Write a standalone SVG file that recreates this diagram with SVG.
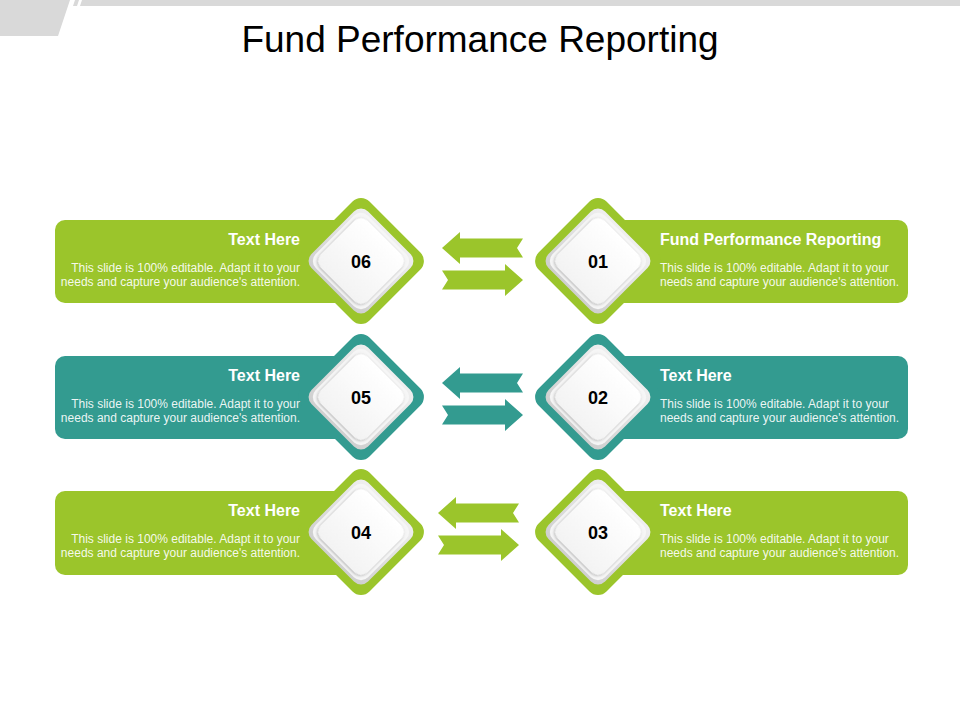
<svg xmlns="http://www.w3.org/2000/svg" xmlns:xlink="http://www.w3.org/1999/xlink" width="960" height="720" viewBox="0 0 960 720">
<style>
text{font-family:"Liberation Sans",Arial,sans-serif}
.title{font-size:37px;fill:#000}
.hd{font-size:16px;font-weight:bold;fill:#fff}
.bd{font-size:12px;fill:#fff;fill-opacity:0.92}
.num{font-size:18px;font-weight:bold;fill:#000;text-anchor:middle}
.g{fill:#9bc52b}
.t{fill:#339b90}
.end{text-anchor:end}
</style>
<defs>
<linearGradient id="ring" x1="0" y1="0" x2="0" y2="1">
<stop offset="0" stop-color="#efefef"/>
<stop offset="1" stop-color="#cfcfcf"/>
</linearGradient>
<linearGradient id="wh" x1="0" y1="0" x2="0" y2="1">
<stop offset="0" stop-color="#ffffff"/>
<stop offset="1" stop-color="#f3f3f3"/>
</linearGradient>
<filter id="sh" x="-20%" y="-20%" width="140%" height="140%">
<feDropShadow dx="0" dy="1" stdDeviation="1.6" flood-color="#777" flood-opacity="0.6"/>
</filter>
<rect id="dOuter" x="-48" y="-48" width="96" height="96" rx="12" transform="rotate(45)"/>
<g id="dInner">
<rect x="-40" y="-40" width="80" height="80" rx="10" transform="rotate(45)" fill="url(#ring)"/>
<rect x="-37" y="-37" width="74" height="74" rx="10" transform="rotate(45)" fill="#f6f6f6"/>
<rect x="-33" y="-33" width="66" height="66" rx="9" transform="rotate(45)" fill="url(#wh)" filter="url(#sh)"/>
</g>
<path id="arL" d="M0,0 L18,-16 L18,-9.5 L81,-9.5 L75,0 L81,9.5 L18,9.5 L18,16 Z"/>
<path id="arR" d="M81,0 L63,-16 L63,-9.5 L0,-9.5 L6,0 L0,9.5 L63,9.5 L63,16 Z"/>
</defs>

<g id="header">
<polygon points="0,0 70,0 58,36 0,36" fill="#d9d9d9"/>
<polygon points="75,0 79,0 77,6 73,6" fill="#d9d9d9"/>
<polygon points="82,0 960,0 960,6 80,6" fill="#d9d9d9"/>
<text class="title" x="480" y="52" text-anchor="middle">Fund Performance Reporting</text>
</g>

<g id="connectors">
<use href="#arL" x="442" y="248" class="g"/>
<use href="#arR" x="442" y="280" class="g"/>
<use href="#arL" x="442" y="383" class="t"/>
<use href="#arR" x="442" y="415" class="t"/>
<use href="#arL" x="438" y="513" class="g"/>
<use href="#arR" x="438" y="545" class="g"/>
</g>

<g id="node-06">
<rect x="55" y="220" width="306" height="83" rx="10" class="g"/>
<g transform="translate(361,261)"><use href="#dOuter" class="g"/><use href="#dInner"/></g>
<text class="num" x="361" y="268">06</text>
<text class="hd end" x="300" y="245">Text Here</text>
<text class="bd end" x="300" y="271.5">This slide is 100% editable. Adapt it to your</text>
<text class="bd end" x="300" y="285.5">needs and capture your audience's attention.</text>
</g>

<g id="node-01">
<rect x="598" y="220" width="310" height="83" rx="10" class="g"/>
<g transform="translate(598,261)"><use href="#dOuter" class="g"/><use href="#dInner"/></g>
<text class="num" x="598" y="268">01</text>
<text class="hd" x="660" y="245">Fund Performance Reporting</text>
<text class="bd" x="660" y="271.5">This slide is 100% editable. Adapt it to your</text>
<text class="bd" x="660" y="285.5">needs and capture your audience's attention.</text>
</g>

<g id="node-05">
<rect x="55" y="356" width="306" height="83" rx="10" class="t"/>
<g transform="translate(361,397)"><use href="#dOuter" class="t"/><use href="#dInner"/></g>
<text class="num" x="361" y="404">05</text>
<text class="hd end" x="300" y="381">Text Here</text>
<text class="bd end" x="300" y="407.5">This slide is 100% editable. Adapt it to your</text>
<text class="bd end" x="300" y="421.5">needs and capture your audience's attention.</text>
</g>

<g id="node-02">
<rect x="598" y="356" width="310" height="83" rx="10" class="t"/>
<g transform="translate(598,397)"><use href="#dOuter" class="t"/><use href="#dInner"/></g>
<text class="num" x="598" y="404">02</text>
<text class="hd" x="660" y="381">Text Here</text>
<text class="bd" x="660" y="407.5">This slide is 100% editable. Adapt it to your</text>
<text class="bd" x="660" y="421.5">needs and capture your audience's attention.</text>
</g>

<g id="node-04">
<rect x="55" y="491" width="306" height="84" rx="10" class="g"/>
<g transform="translate(361,532)"><use href="#dOuter" class="g"/><use href="#dInner"/></g>
<text class="num" x="361" y="539">04</text>
<text class="hd end" x="300" y="516">Text Here</text>
<text class="bd end" x="300" y="542.5">This slide is 100% editable. Adapt it to your</text>
<text class="bd end" x="300" y="556.5">needs and capture your audience's attention.</text>
</g>

<g id="node-03">
<rect x="598" y="491" width="310" height="84" rx="10" class="g"/>
<g transform="translate(598,532)"><use href="#dOuter" class="g"/><use href="#dInner"/></g>
<text class="num" x="598" y="539">03</text>
<text class="hd" x="660" y="516">Text Here</text>
<text class="bd" x="660" y="542.5">This slide is 100% editable. Adapt it to your</text>
<text class="bd" x="660" y="556.5">needs and capture your audience's attention.</text>
</g>
</svg>
